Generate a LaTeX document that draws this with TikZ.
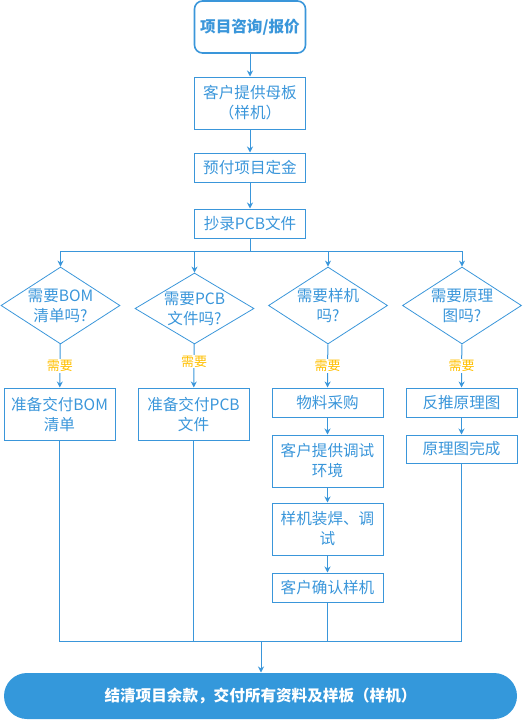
\documentclass[tikz,border=0pt]{standalone}
\usepackage{fontspec}
\newfontfamily\cjk{Noto Sans CJK SC}
\usetikzlibrary{shapes.geometric, arrows.meta, positioning}
\definecolor{lineblue}{RGB}{58,150,218}
\definecolor{fillblue}{RGB}{52,152,219}
\definecolor{yesorange}{RGB}{255,192,0}

\begin{document}
\begin{tikzpicture}[x=1pt, y=-1pt,
		color=lineblue, line width=1pt,
		every node/.style={font=\cjk\fontsize{15.6}{20}\selectfont},
		startnode/.style={draw, line width=1.6pt, rounded corners=8pt, minimum width=111pt, minimum height=52pt, font=\cjk\bfseries\fontsize{15.6}{20}\selectfont},
		stepbox/.style={rectangle, draw, minimum width=111pt, align=center, inner sep=0pt},
		decision/.style={diamond, draw, line width=0.8pt, minimum width=119pt, inner sep=0pt},
		yeslbl/.style={fill=white, text=yesorange, inner sep=1pt, font=\cjk\fontsize{13}{15}\selectfont},
		endnode/.style={fill=fillblue, rounded corners=23pt, minimum width=513pt, minimum height=46pt, text=white, font=\cjk\bfseries\fontsize{15.6}{20}\selectfont},
		->, >={Stealth[length=6pt,width=6pt]} % flèches pleines
		]
		\useasboundingbox (0,0) rectangle (531,720);
		
		% Les étapes du haut
		\node[startnode] (start) at (250,27) {项目咨询/报价};
		\node[stepbox, minimum height=52pt] (client) at (250,103) {客户提供母板\\（样机）};
		\node[stepbox, minimum height=29pt] (deposit) at (250,167.5) {预付项目定金};
		\node[stepbox, minimum height=29pt] (copy) at (250,223.5) {抄录PCB文件};
		\coordinate (split) at (250,251);
		
		% Les questions
		\node[decision, minimum height=77pt, label={[align=center]center:需要BOM\\清单吗?}] (bom) at (60.5,305.5) {};
		\node[decision, minimum height=71pt, label={[align=center]center:需要PCB\\文件吗?}] (pcb) at (194.5,308.5) {};
		\node[decision, minimum height=77pt, label={[align=center]center:需要样机\\吗?}] (proto) at (328,305.5) {};
		\node[decision, minimum height=77pt, label={[align=center]center:需要原理\\图吗?}] (sch) at (462,305.5) {};
		
		% Les tâches
		\node[stepbox, minimum height=52pt] (bomdoc) at (59.5,414) {准备交付BOM\\清单};
		\node[stepbox, minimum height=52pt] (pcbdoc) at (193.5,414) {准备交付PCB\\文件};
		\node[stepbox, minimum height=29pt] (buy) at (327.5,402.5) {物料采购};
		\node[stepbox, minimum height=52pt] (debugenv) at (327.5,461) {客户提供调试\\环境};
		\node[stepbox, minimum height=52pt] (weld) at (327.5,529) {样机装焊、调\\试};
		\node[stepbox, minimum height=29pt] (confirm) at (327.5,587.5) {客户确认样机};
		\node[stepbox, minimum height=29pt] (reverse) at (461.5,402.5) {反推原理图};
		\node[stepbox, minimum height=28pt] (schdone) at (461.5,449) {原理图完成};
		
		% La fin
		\coordinate (merge) at (261,641);
		\node[endnode] (finish) at (260.5,696) {结清项目余款，交付所有资料及样板（样机）};
		
		% Les arêtes orientées
		\draw (start) -- (client);
		\draw (client) -- (deposit);
		\draw (deposit) -- (copy);
		\draw[-] (copy) -- (split);
		\draw (split) -| (bom);
		\draw (split) -| (pcb);
		\draw (split) -| (proto);
		\draw (split) -| (sch);
		\draw (bom) -- node[yeslbl] {需要} (bomdoc);
		\draw (pcb) -- node[yeslbl, pos=0.4] {需要} (pcbdoc);
		\draw (proto) -- node[yeslbl] {需要} (buy);
		\draw (sch) -- node[yeslbl] {需要} (reverse);
		\draw (buy) -- (debugenv);
		\draw (debugenv) -- (weld);
		\draw (weld) -- (confirm);
		\draw (reverse) -- (schdone);
		\draw[-] (bomdoc) |- (merge);
		\draw[-] (pcbdoc) |- (merge);
		\draw[-] (confirm) |- (merge);
		\draw[-] (schdone) |- (merge);
		\draw (merge) -- (merge |- finish.north);
	\end{tikzpicture}
\end{document}
